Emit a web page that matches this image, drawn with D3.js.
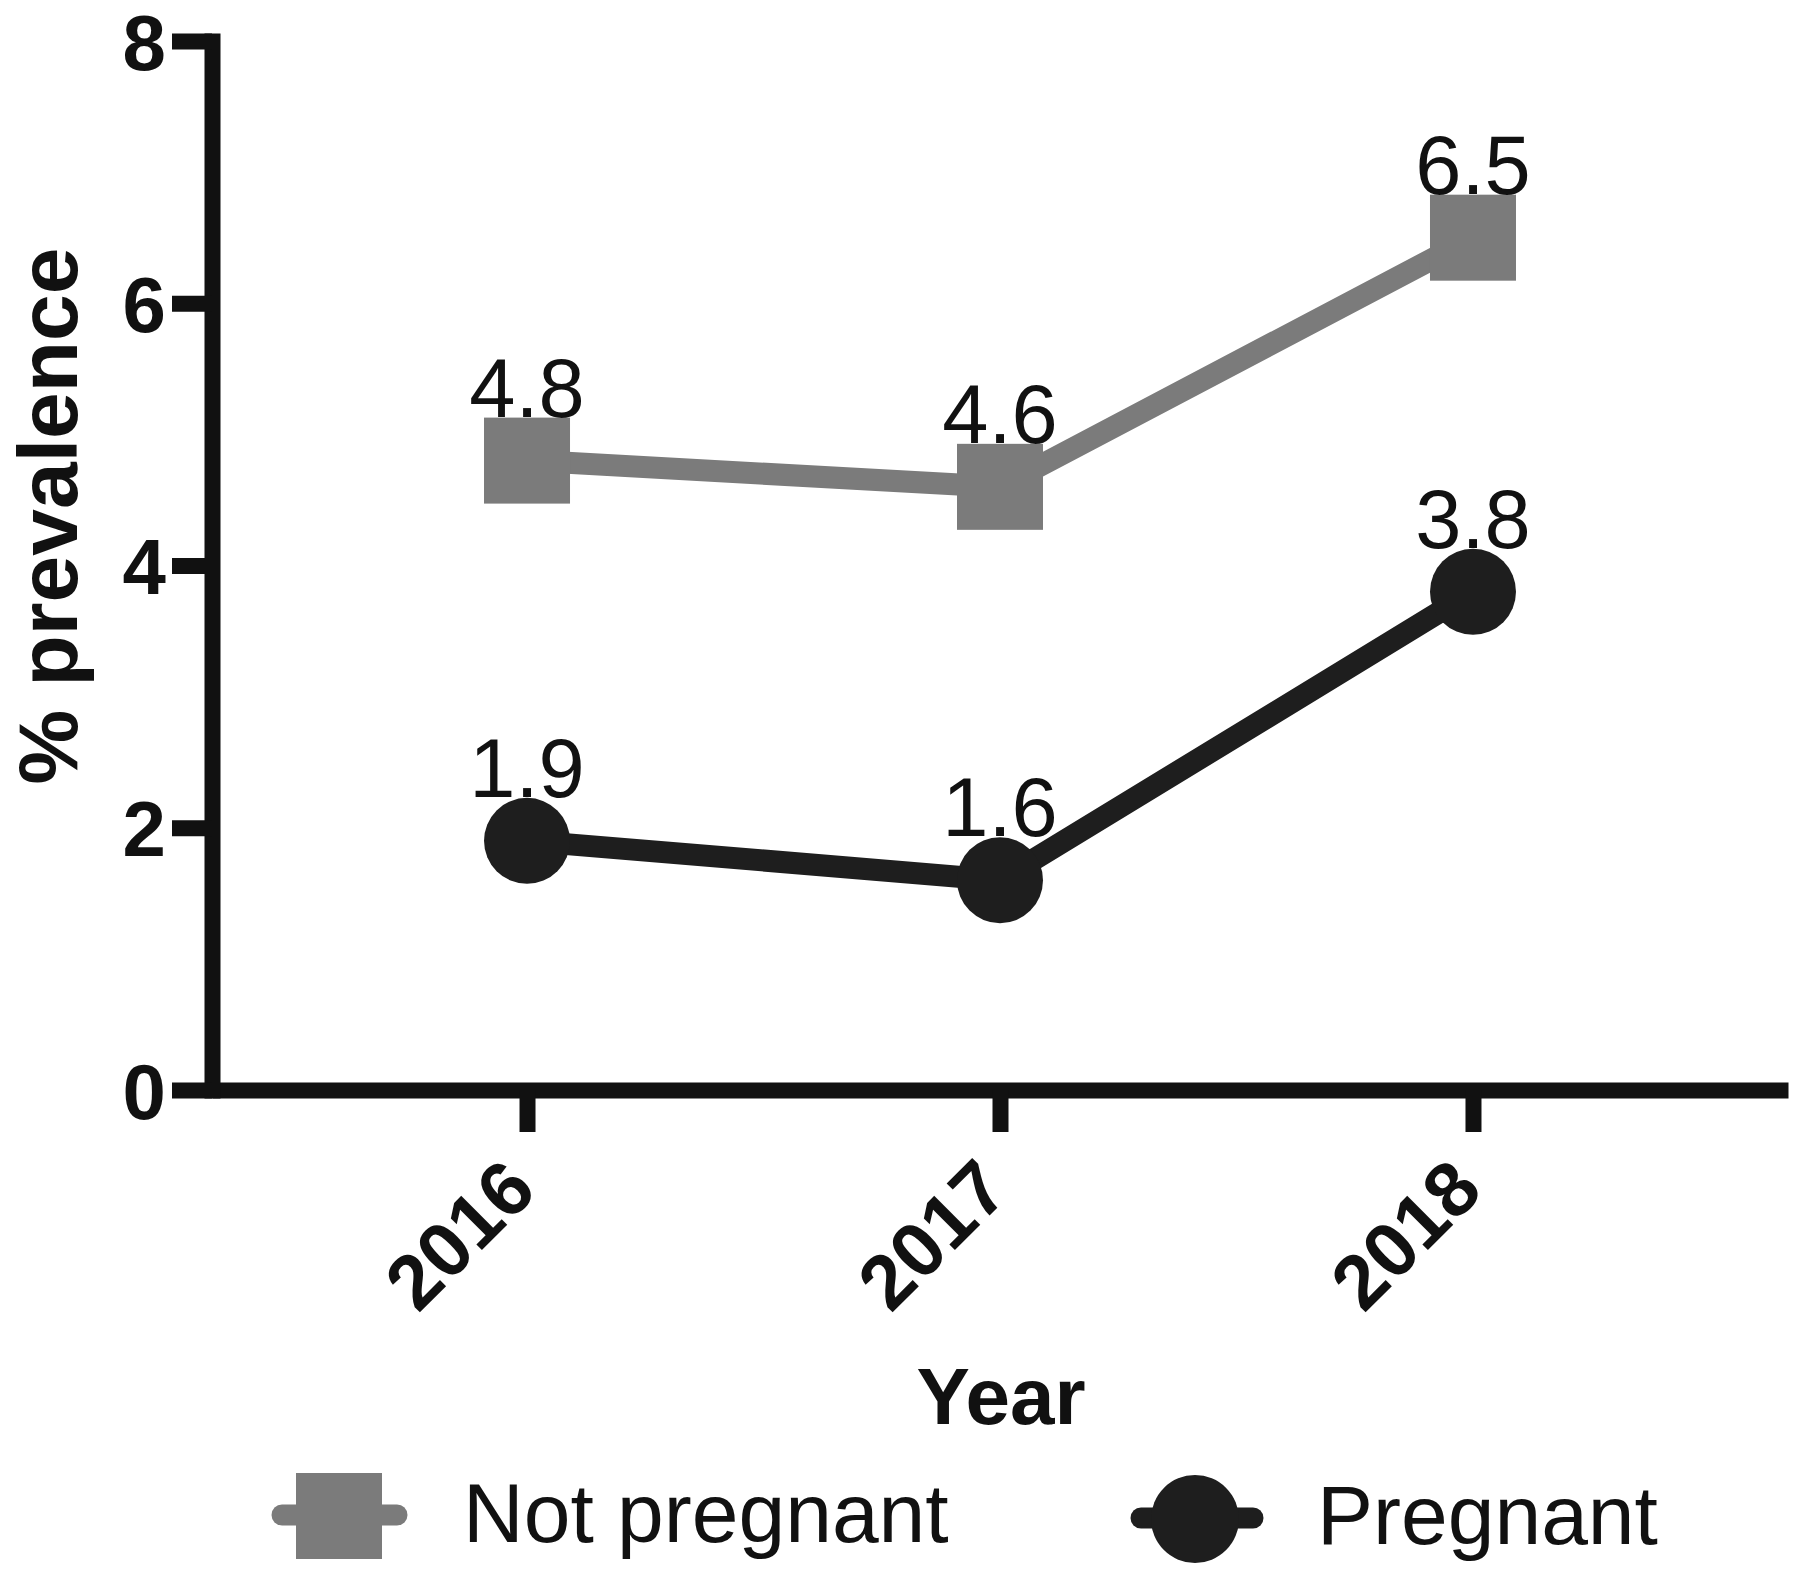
<!DOCTYPE html>
<html>
<head>
<meta charset="utf-8">
<script src="https://cdn.jsdelivr.net/npm/d3@7"></script>
<style>
  body { margin: 0; background: #fff; }
  svg text { font-family: "Liberation Sans", Arial, sans-serif; fill: #111; }
</style>
</head>
<body>
<div id="chart"></div>
<script>
// chart values
var years = ["2016", "2017", "2018"];
var notPregnant = [4.8, 4.6, 6.5];
var pregnant = [1.9, 1.6, 3.8];
var yTicks = [0, 2, 4, 6, 8];
var seriesNames = ["Not pregnant", "Pregnant"];

var width = 1800;
var height = 1581;
var grey = "#7b7b7b";
var black = "#1e1e1e";

var svg = d3.select("#chart").append("svg")
    .attr("width", width)
    .attr("height", height);

var x = d3.scalePoint()
    .domain(years)
    .range([212, 1788])
    .padding(0.666);

var y = d3.scaleLinear()
    .domain([0, 8])
    .range([1090, 41]);

// x axis
var xAxis = svg.append("g")
    .attr("transform", "translate(0," + y(0) + ")")
    .call(d3.axisBottom(x).tickSize(42).tickSizeOuter(0).tickFormat(""));
xAxis.select(".domain").attr("stroke", "#111").attr("stroke-width", 16);
xAxis.selectAll(".tick line").attr("stroke", "#111").attr("stroke-width", 16);

// rotated year labels
svg.selectAll(".year-label")
    .data(years)
    .enter().append("text")
    .attr("class", "year-label")
    .attr("transform", function (d) { return "translate(" + (x(d) + 12) + ",1193) rotate(-45)"; })
    .attr("text-anchor", "end")
    .style("font-size", "77px")
    .style("font-weight", "bold")
    .text(function (d) { return d; });

// y axis
var yAxis = svg.append("g")
    .attr("transform", "translate(" + 212 + ",0)")
    .call(d3.axisLeft(y).tickValues(yTicks).tickSize(40).tickSizeOuter(0).tickPadding(6));
yAxis.select(".domain").attr("stroke", "#111").attr("stroke-width", 16).attr("stroke-linecap", "square");
yAxis.selectAll(".tick line").attr("stroke", "#111").attr("stroke-width", 16);
yAxis.selectAll(".tick text")
    .attr("dy", "0.36em")
    .style("font-size", "78px")
    .style("font-weight", "bold")
    .style("font-family", "'Liberation Sans', Arial, sans-serif")
    .attr("fill", "#111");

// axis titles
svg.append("text")
    .attr("transform", "translate(77,516) rotate(-90)")
    .attr("text-anchor", "middle")
    .style("font-size", "84px")
    .style("font-weight", "bold")
    .text("% prevalence");

svg.append("text")
    .attr("x", 1001)
    .attr("y", 1424)
    .attr("text-anchor", "middle")
    .style("font-size", "80px")
    .style("font-weight", "bold")
    .text("Year");

// lines
var line = d3.line()
    .x(function (d, i) { return x(years[i]); })
    .y(function (d) { return y(d); });

svg.append("path")
    .datum(notPregnant)
    .attr("d", line)
    .attr("fill", "none")
    .attr("stroke", grey)
    .attr("stroke-width", 22);

svg.append("path")
    .datum(pregnant)
    .attr("d", line)
    .attr("fill", "none")
    .attr("stroke", black)
    .attr("stroke-width", 22);

// markers
var sq = 86;
svg.selectAll(".sq")
    .data(notPregnant)
    .enter().append("rect")
    .attr("class", "sq")
    .attr("x", function (d, i) { return x(years[i]) - sq / 2; })
    .attr("y", function (d) { return y(d) - sq / 2; })
    .attr("width", sq)
    .attr("height", sq)
    .attr("fill", grey);

svg.selectAll(".dot")
    .data(pregnant)
    .enter().append("circle")
    .attr("class", "dot")
    .attr("cx", function (d, i) { return x(years[i]); })
    .attr("cy", function (d) { return y(d); })
    .attr("r", 43)
    .attr("fill", black);

// value labels
function addLabels(data, cls) {
    svg.selectAll("." + cls)
        .data(data)
        .enter().append("text")
        .attr("class", cls)
        .attr("x", function (d, i) { return x(years[i]); })
        .attr("y", function (d) { return y(d) - 44; })
        .attr("text-anchor", "middle")
        .style("font-size", "83px")
        .text(function (d) { return d.toFixed(1); });
}
addLabels(notPregnant, "lab-np");
addLabels(pregnant, "lab-p");

// legend
var legend = svg.append("g");
legend.append("line")
    .attr("x1", 282).attr("x2", 397)
    .attr("y1", 1515).attr("y2", 1515)
    .attr("stroke", grey).attr("stroke-width", 21).attr("stroke-linecap", "round");
legend.append("rect")
    .attr("x", 339 - sq / 2).attr("y", 1516 - sq / 2)
    .attr("width", sq).attr("height", sq)
    .attr("fill", grey);
legend.append("text")
    .attr("x", 463).attr("y", 1542)
    .style("font-size", "84px")
    .text(seriesNames[0]);

legend.append("line")
    .attr("x1", 1141).attr("x2", 1253)
    .attr("y1", 1518).attr("y2", 1518)
    .attr("stroke", black).attr("stroke-width", 21).attr("stroke-linecap", "round");
legend.append("circle")
    .attr("cx", 1195).attr("cy", 1519).attr("r", 44)
    .attr("fill", black);
legend.append("text")
    .attr("x", 1317).attr("y", 1544)
    .style("font-size", "84px")
    .text(seriesNames[1]);
</script>
</body>
</html>
